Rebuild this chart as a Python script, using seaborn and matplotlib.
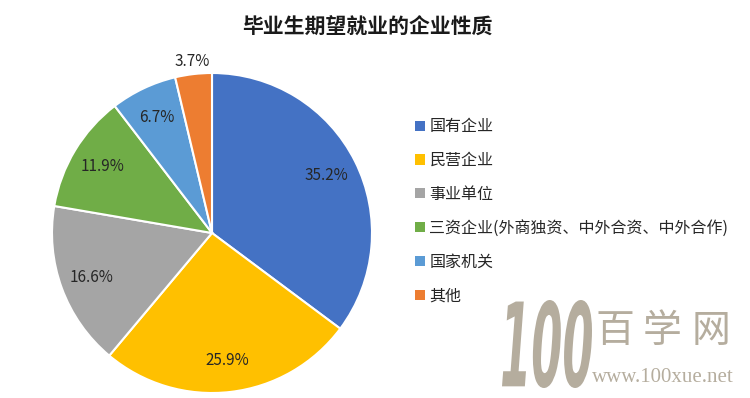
import numpy as np
import seaborn as sns
import matplotlib.pyplot as plt
from matplotlib.patches import Patch, PathPatch
from matplotlib.textpath import TextPath
from matplotlib.font_manager import FontProperties
from matplotlib.transforms import Affine2D

# 数据
categories = ['国有企业', '民营企业', '事业单位', '三资企业(外商独资、中外合资、中外合作)', '国家机关', '其他']
shares = [35.2, 25.9, 16.6, 11.9, 6.7, 3.7]
colors = ['#4472C4', '#FFC000', '#A5A5A5', '#70AD47', '#5B9BD5', '#ED7D31']
title = '毕业生期望就业的企业性质'

sns.set_theme(style='white')
plt.rcParams['font.family'] = ['Noto Sans CJK SC', 'DejaVu Sans']

fig = plt.figure(figsize=(7.5, 3.98), dpi=100)
ax = fig.add_axes([52 / 750, 5 / 398, 320 / 750, 320 / 398])

wedges, texts, autotexts = ax.pie(
    shares, colors=colors, startangle=90, counterclock=False,
    autopct='%.1f%%', pctdistance=0.8,
    wedgeprops=dict(edgecolor='white', linewidth=1.5),
    textprops=dict(fontsize=11, color='#262626'))
ax.set_xlim(-1, 1)
ax.set_ylim(-1, 1)
ax.set_aspect('equal')

# 小扇区的标签放在外侧
w = wedges[-1]
mid = np.deg2rad((w.theta1 + w.theta2) / 2)
autotexts[-1].set_position((1.08 * np.cos(mid), 1.08 * np.sin(mid)))

fig.text(0.49, 0.935, title, ha='center', va='center', fontsize=15, fontweight='bold', color='#1a1a1a')

handles = [Patch(facecolor=c, edgecolor='none') for c in colors]
fig.legend(handles, categories, loc='center left', bbox_to_anchor=(407 / 750, 0.469),
           frameon=False, fontsize=11.5, borderpad=0, handlelength=0.6, handleheight=0.6,
           handletextpad=0.3, labelspacing=1.05)

# 水印
wm = '#B5AD9E'
tp = TextPath((0, 0), '100', size=1, prop=FontProperties(family='DejaVu Sans', weight='bold', style='italic'))
bb = tp.get_extents()
sx, sy = 90 / bb.width, 88 / bb.height
tr = Affine2D().translate(-bb.x0, -bb.y0).scale(sx, sy).translate(502, 398 - 388)
logo = PathPatch(tr.transform_path(tp), facecolor=wm, edgecolor='none', transform=None)
fig.patches.append(logo)
for ch, x in zip('百学网', [615, 662, 711]):
    fig.text(x / 750, 1 - 331 / 398, ch, fontsize=28, color=wm, va='center', ha='center')
fig.text(592 / 750, 1 - 378 / 398, 'www.100xue.net', fontsize=15, color=wm, va='center',
         ha='left', family='Liberation Serif')

fig.savefig('out.png', dpi=100)
